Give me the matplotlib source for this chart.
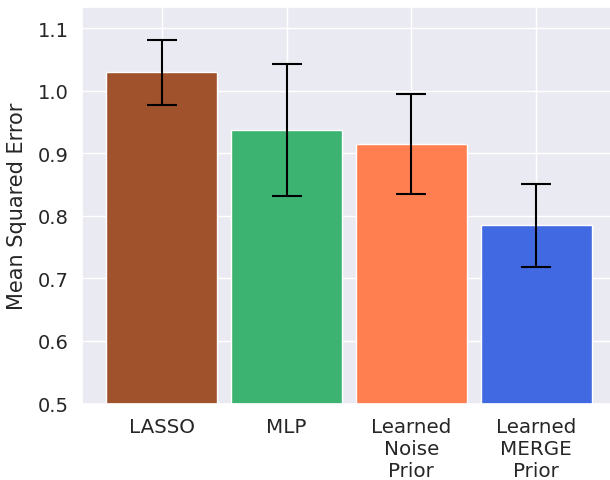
import matplotlib
matplotlib.use("Agg")
import matplotlib.pyplot as plt
import seaborn as sns
import numpy as np

sns.set_theme(style="darkgrid")
plt.rcParams['font.family'] = ['DejaVu Sans']

categories = ["LASSO", "MLP", "Learned\nNoise\nPrior", "Learned\nMERGE\nPrior"]
means = [1.030, 0.937, 0.915, 0.785]
errors = [0.052, 0.106, 0.080, 0.066]
colors = ["#A0522D", "#3CB371", "#FF7F50", "#4169E1"]

fig = plt.figure(figsize=(6.10, 4.81), dpi=100)
ax = fig.add_axes([82/610, (481-404.5)/481, (616-82)/610, (404.5-8)/481])

x = np.arange(len(categories))
ax.bar(x, means, width=0.89, color=colors, yerr=errors, capsize=11,
       error_kw=dict(elinewidth=1.5, capthick=1.5, ecolor="black"))
ax.set_ylim(0.5, 1.134)
ax.set_xticks(x)
ax.set_xticklabels(categories, fontsize=14.3)
ax.tick_params(axis='y', labelsize=14)
ax.set_ylabel("Mean Squared Error", fontsize=15, labelpad=8)

fig.savefig("out.png", dpi=100)
